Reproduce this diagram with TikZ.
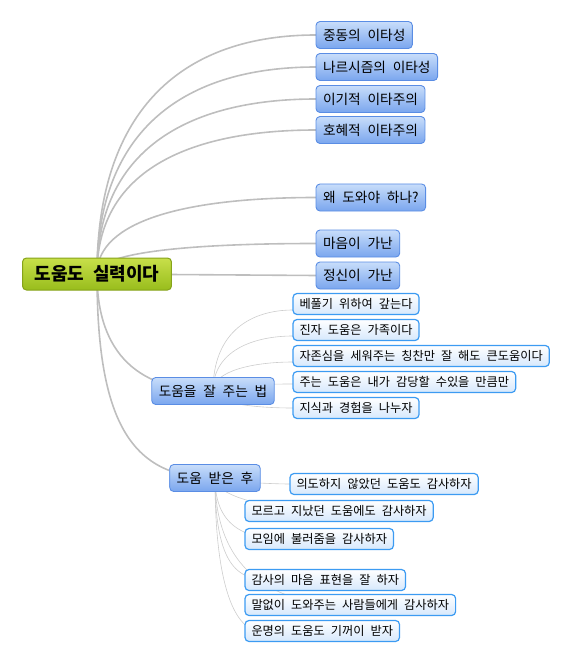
\documentclass[tikz,border=0pt]{standalone}
\usepackage{fontspec}
\newfontfamily\kr[WordSpace=2.2]{Noto Sans CJK KR}
\usetikzlibrary{positioning,backgrounds}

\definecolor{roottop}{HTML}{C8DF4A}
\definecolor{rootbot}{HTML}{98BD1C}
\definecolor{rootline}{HTML}{86A31A}
\definecolor{topictop}{HTML}{C8DDFA}
\definecolor{topicbot}{HTML}{7AA6EE}
\definecolor{topicline}{HTML}{5A8DE4}
\definecolor{leafbot}{HTML}{D6E8FC}
\definecolor{leafline}{HTML}{3C9BF2}
\definecolor{trunkgray}{HTML}{BEBEBE}
\definecolor{twiggray}{HTML}{CDCDCD}

\begin{document}
\begin{tikzpicture}[
    x=1pt, y=-1pt,
    root/.style={draw=rootline, line width=1pt, rounded corners=4pt, top color=roottop, bottom color=rootbot, minimum height=32pt, inner xsep=12pt, outer sep=0pt, font=\kr\fontsize{18}{19}\selectfont\bfseries},
    topic/.style={draw=topicline, line width=0.9pt, rounded corners=4pt, top color=topictop, bottom color=topicbot, minimum height=27pt, inner xsep=7pt, outer sep=0pt, font=\kr\fontsize{13.7}{15}\selectfont},
    leaf/.style={draw=leafline, line width=1.2pt, rounded corners=4pt, top color=white, bottom color=leafbot, minimum height=21pt, inner xsep=6.5pt, inner ysep=0pt, outer sep=0pt, font=\kr\fontsize{12.2}{13}\selectfont},
    trunk/.style={draw=trunkgray, line width=1.6pt},
    twig/.style={draw=twiggray, line width=0.6pt}
]
\useasboundingbox (0,0) rectangle (567,660);

% root
\node[root] (root) at (97,274) {도움도 실력이다};

% first level, right side
\node[topic, anchor=west] (t1) at (316,35) {중동의 이타성};
\node[topic, below=5pt of t1.south west, anchor=north west] (t2) {나르시즘의 이타성};
\node[topic, below=5pt of t2.south west, anchor=north west] (t3) {이기적 이타주의};
\node[topic, below=4pt of t3.south west, anchor=north west] (t4) {호혜적 이타주의};
\node[topic, below=40.5pt of t4.south west, anchor=north west] (t5) {왜 도와야 하나?};
\node[topic, below=19pt of t5.south west, anchor=north west] (t6) {마음이 가난};
\node[topic, below=5pt of t6.south west, anchor=north west] (t7) {정신이 가난};

% first level, below
\node[topic] (give) at (213,391) {도움을 잘 주는 법};
\node[topic] (got) at (215,478) {도움 받은 후};

% leaves of give
\node[leaf, anchor=west] (g1) at (293,304) {베풀기 위하여 갚는다};
\node[leaf, below=5pt of g1.south west, anchor=north west] (g2) {진자 도움은 가족이다};
\node[leaf, below=5pt of g2.south west, anchor=north west] (g3) {자존심을 세워주는 칭찬만 잘 해도 큰도움이다};
\node[leaf, below=5pt of g3.south west, anchor=north west] (g4) {주는 도움은 내가 감당할 수있을 만큼만};
\node[leaf, below=5pt of g4.south west, anchor=north west] (g5) {지식과 경험을 나누자};

% leaves of got
\node[leaf, anchor=west] (r1) at (290,484) {의도하지 않았던 도움도 감사하자};
\node[leaf, anchor=west] (r2) at (245,511) {모르고 지났던 도움에도 감사하자};
\node[leaf, below=7pt of r2.south west, anchor=north west] (r3) {모임에 불러줌을 감사하자};
\node[leaf, below=20pt of r3.south west, anchor=north west] (r4) {감사의 마음 표현을 잘 하자};
\node[leaf, below=4pt of r4.south west, anchor=north west] (r5) {말없이 도와주는 사람들에게 감사하자};
\node[leaf, below=5pt of r5.south west, anchor=north west] (r6) {운명의 도움도 기꺼이 받자};

\begin{scope}[on background layer]
  \foreach \n/\k in {t1/167, t2/145, t3/122, t4/101, t5/53, t6/21}
    \draw[trunk] (root.center) .. controls +(0,-\k) and +(-131,0) .. (\n.west);
  \draw[trunk] (root.center) -- (t7.west);
  \draw[trunk] (root.center) .. controls +(0,81) and +(-73,0) .. (give.center);
  \draw[trunk] (root.center) .. controls +(0,146) and +(-85,0) .. (got.center);

  \foreach \n/\s/\k in {g1/-6/-61, g2/-6/-40, g3/-6/-20, g4/-2/-5, g5/0/12}
    \draw[twig] (give.center) .. controls +(0,\k) and +(-40,0) .. ([yshift=\s pt]\n.west);

  \foreach \n/\s/\k/\m in {r1/0/3/20, r2/94/20/62, r3/40/52/35, r4/30/100/30, r5/105/89/81, r6/15/122/20}
    \draw[twig] (got.center) .. controls +(0,\k) and +(-\m,0) .. ([xshift=\s pt]\n.west);
\end{scope}
\end{tikzpicture}
\end{document}
